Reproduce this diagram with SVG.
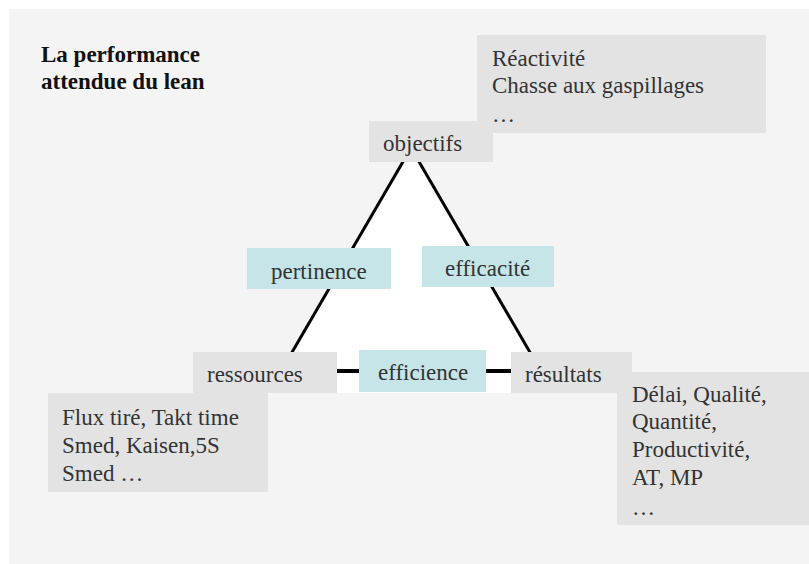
<svg xmlns="http://www.w3.org/2000/svg" width="809" height="564" viewBox="0 0 809 564">
<style>
text{font-family:"Liberation Serif","Times New Roman",serif;font-size:23px;fill:#333}
.title{font-weight:bold;fill:#111}
.g{fill:#e3e3e3}
.b{fill:#c6e5e8}
.ln{stroke:#000;stroke-width:3;fill:none}
.hl{stroke:#000;stroke-width:4;fill:none}
</style>
<rect x="9" y="9" width="800" height="555" fill="#f4f4f4"/>
<polygon points="404,161 418,161 532,352 532,393 292,393 292,352" fill="#fff"/>
<g id="title">
<text class="title" x="41" y="62">La performance</text>
<text class="title" x="41" y="89">attendue du lean</text>
</g>
<g id="connectors">
<line class="ln" x1="404" y1="160" x2="291" y2="354"/>
<line class="ln" x1="418" y1="160" x2="531" y2="354"/>
<line class="hl" x1="337" y1="371" x2="359" y2="371"/>
<line class="hl" x1="486" y1="371" x2="511" y2="371"/>
</g>
<g id="objectifs-details">
<rect class="g" x="477" y="35" width="289" height="98"/>
<text x="492" y="66">Réactivité</text>
<text x="492" y="93">Chasse aux gaspillages</text>
<text x="492" y="122">…</text>
</g>
<g id="objectifs">
<rect class="g" x="369" y="121" width="124" height="41"/>
<text x="383" y="151">objectifs</text>
</g>
<g id="pertinence">
<rect class="b" x="247" y="248" width="144" height="41"/>
<text x="271" y="279">pertinence</text>
</g>
<g id="efficacite">
<rect class="b" x="422" y="246" width="132" height="41"/>
<text x="445" y="276">efficacité</text>
</g>
<g id="ressources">
<rect class="g" x="193" y="352" width="144" height="41"/>
<text x="207" y="382">ressources</text>
</g>
<g id="efficience">
<rect class="b" x="359" y="350" width="127" height="42"/>
<text x="378" y="380">efficience</text>
</g>
<g id="resultats">
<rect class="g" x="511" y="352" width="121" height="41"/>
<text x="525" y="382">résultats</text>
</g>
<g id="ressources-details">
<rect class="g" x="48" y="393" width="220" height="99"/>
<text x="62" y="425">Flux tiré, Takt time</text>
<text x="62" y="453">Smed, Kaisen,5S</text>
<text x="62" y="481">Smed …</text>
</g>
<g id="resultats-details">
<rect class="g" x="617" y="372" width="192" height="153"/>
<text x="632" y="402">Délai, Qualité,</text>
<text x="632" y="429">Quantité,</text>
<text x="632" y="457">Productivité,</text>
<text x="632" y="485">AT, MP</text>
<text x="632" y="515">…</text>
</g>
</svg>
